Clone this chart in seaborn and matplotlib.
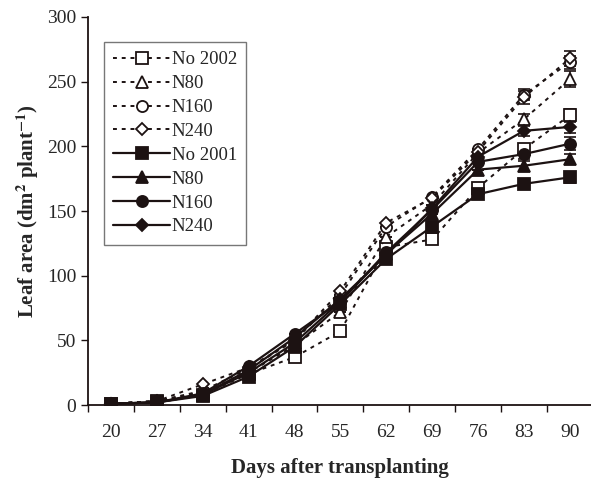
import numpy as np
import pandas as pd
import matplotlib
matplotlib.use("Agg")
import matplotlib.pyplot as plt
import seaborn as sns

# leaf area (dm2 per plant)
days = [20, 27, 34, 41, 48, 55, 62, 69, 76, 83, 90]
no_2002 = [1, 3, 8, 24, 37, 57, 122, 128, 168, 198, 224]
n80_2002 = [1, 3, 10, 25, 46, 72, 130, 155, 195, 221, 252]
n160_2002 = [1, 3, 11, 28, 50, 85, 138, 161, 198, 240, 265]
n240_2002 = [1, 3, 16, 29, 50, 88, 141, 160, 196, 238, 268]
no_2001 = [1, 2, 7, 22, 45, 78, 113, 138, 163, 171, 176]
n80_2001 = [1, 2, 8, 25, 48, 80, 117, 148, 182, 185, 190]
n160_2001 = [1, 2, 9, 30, 55, 80, 118, 151, 188, 194, 202]
n240_2001 = [1, 2, 8, 27, 52, 82, 116, 152, 192, 212, 215]
# small error bars visible only on the last two dates
err_no_2002 = [0, 0, 0, 0, 0, 0, 0, 0, 0, 4, 5]
err_n80_2002 = [0, 0, 0, 0, 0, 0, 0, 0, 0, 4, 6]
err_n160_2002 = [0, 0, 0, 0, 0, 0, 0, 0, 0, 4, 5]
err_n240_2002 = [0, 0, 0, 0, 0, 0, 0, 0, 0, 5, 6]
err_no_2001 = [0, 0, 0, 0, 0, 0, 0, 0, 0, 3, 4]
err_n80_2001 = [0, 0, 0, 0, 0, 0, 0, 0, 0, 4, 4]
err_n160_2001 = [0, 0, 0, 0, 0, 0, 0, 0, 0, 4, 5]
err_n240_2001 = [0, 0, 0, 0, 0, 0, 0, 0, 0, 4, 5]

labels = ['No 2002', 'N80', 'N160', 'N240', 'No 2001', 'N80', 'N160', 'N240']
values = [no_2002, n80_2002, n160_2002, n240_2002, no_2001, n80_2001, n160_2001, n240_2001]
errors = [err_no_2002, err_n80_2002, err_n160_2002, err_n240_2002,
          err_no_2001, err_n80_2001, err_n160_2001, err_n240_2001]
markers = ['s', '^', 'o', 'D', 's', '^', 'o', 'D']
sizes = [8, 8, 8, 6.5, 8, 8, 8, 6.5]

sns.set_style("ticks")
plt.rcParams['font.family'] = ['Liberation Serif', 'DejaVu Serif']
plt.rcParams['mathtext.fontset'] = 'stix'
ink = '#1c1212'

fig = plt.figure(figsize=(5.91, 4.79), dpi=100)
ax = fig.add_axes([88 / 591, 74 / 479, 503 / 591, 388 / 479])

pos = np.arange(len(days))
lines = []
for i, (lab, val, err) in enumerate(zip(labels, values, errors)):
    open_marker = i < 4
    df = pd.DataFrame({'pos': pos, 'val': val})
    sns.lineplot(data=df, x='pos', y='val', ax=ax, color=ink,
                 linewidth=1.4 if open_marker else 1.6,
                 linestyle=(0, (2, 2.5)) if open_marker else '-',
                 marker=markers[i], markersize=sizes[i],
                 markerfacecolor='white' if open_marker else ink,
                 markeredgecolor=ink, markeredgewidth=1.3,
                 label=lab, legend=False)
    lines.append(ax.get_lines()[-1])
    ax.errorbar(pos, val, yerr=err, fmt='none', ecolor=ink, elinewidth=1.2,
                capsize=4, capthick=1.2, zorder=1)

ax.legend(lines, labels, loc='upper left', bbox_to_anchor=(0.032, 0.936),
          frameon=True, fancybox=False, edgecolor='#777777', framealpha=1,
          fontsize=13.5, handlelength=3.0, handletextpad=0.1,
          labelspacing=0.36, borderpad=0.5, borderaxespad=0)

ax.set_xlim(-0.5, 10.46)
ax.set_ylim(0, 300)
ax.set_yticks(range(0, 301, 50))
ax.set_xticks(pos)
ax.set_xticklabels([str(d) for d in days])
ax.set_xticks(np.arange(-0.5, 10.5, 1), minor=True)
ax.tick_params(axis='x', which='major', length=0, pad=14, labelsize=14)
ax.tick_params(axis='x', which='minor', length=5, width=1, color=ink)
ax.tick_params(axis='y', length=5, width=1, labelsize=14, color=ink)
sns.despine(ax=ax)
for s in ['left', 'bottom']:
    ax.spines[s].set_linewidth(1.3)
    ax.spines[s].set_color(ink)

ax.set_xlabel('Days after transplanting', fontsize=15, fontweight='bold', labelpad=12)
ax.set_ylabel('Leaf area (dm$^{\\mathbf{2}}$ plant$^{\\mathbf{-1}}$)', fontsize=15,
              fontweight='bold', labelpad=4)

fig.savefig('out.png', dpi=100)
